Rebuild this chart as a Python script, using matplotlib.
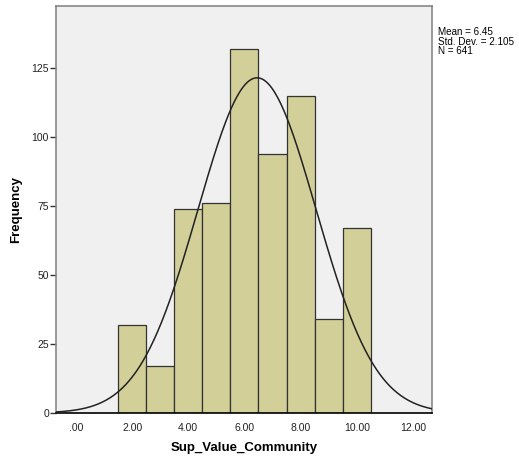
import matplotlib

matplotlib.use("Agg")
import matplotlib.pyplot as plt  # noqa: E402
import numpy as np  # noqa: E402

plt.rcParams.update({"font.family": ["Liberation Sans", "DejaVu Sans"]})

# histogram data (bin centres, counts)
centers = [2, 3, 4, 5, 6, 7, 8, 9, 10]
counts = [32, 17, 74, 76, 132, 94, 115, 34, 67]
mean, sd, n = 6.45, 2.105, 641
xticks = [0, 2, 4, 6, 8, 10, 12]
xticklabels = [".00", "2.00", "4.00", "6.00", "8.00", "10.00", "12.00"]
yticks = [0, 25, 50, 75, 100, 125]

fig = plt.figure(figsize=(5.19, 4.61), dpi=100)
ax = fig.add_axes([56 / 519, 1 - 413 / 461, (432 - 56) / 519, (413 - 6) / 461])
ax.set_facecolor("#f0f0f0")

ax.bar(centers, counts, width=1.0, color="#d3cf98", edgecolor="#333333", lw=0.9, zorder=2)

xs = np.linspace(-0.71, 12.68, 400)
curve = n * 1.0 * np.exp(-((xs - mean) ** 2) / (2 * sd**2)) / (sd * np.sqrt(2 * np.pi))
ax.plot(xs, curve, color="#222222", lw=1.1, zorder=3)

ax.set_xlim(-0.71, 12.68)
ax.set_ylim(0, 147.5)
ax.set_xticks(xticks)
ax.set_xticklabels(xticklabels, fontsize=7.5, color="#222222")
ax.set_yticks(yticks)
ax.set_yticklabels([str(v) for v in yticks], fontsize=7.5, color="#222222")
ax.tick_params(axis="x", length=0, pad=7)
ax.tick_params(axis="y", length=4, width=1, color="#333333", pad=1)

for side in ["top", "right", "left"]:
    ax.spines[side].set_color("#888888")
    ax.spines[side].set_linewidth(1.2)
ax.spines["bottom"].set_color("black")
ax.spines["bottom"].set_linewidth(1.2)

ax.set_xlabel("Sup_Value_Community", fontsize=9.5, fontweight="bold", labelpad=7)
ax.set_ylabel("Frequency", fontsize=9.5, fontweight="bold", labelpad=7)

fig.text(438 / 519, 1 - 27 / 461, f"Mean = {mean}\nStd. Dev. = {sd}\nN = {n}",
         fontsize=7.1, va="top", ha="left", linespacing=0.95)

fig.savefig("out.png", dpi=100)
